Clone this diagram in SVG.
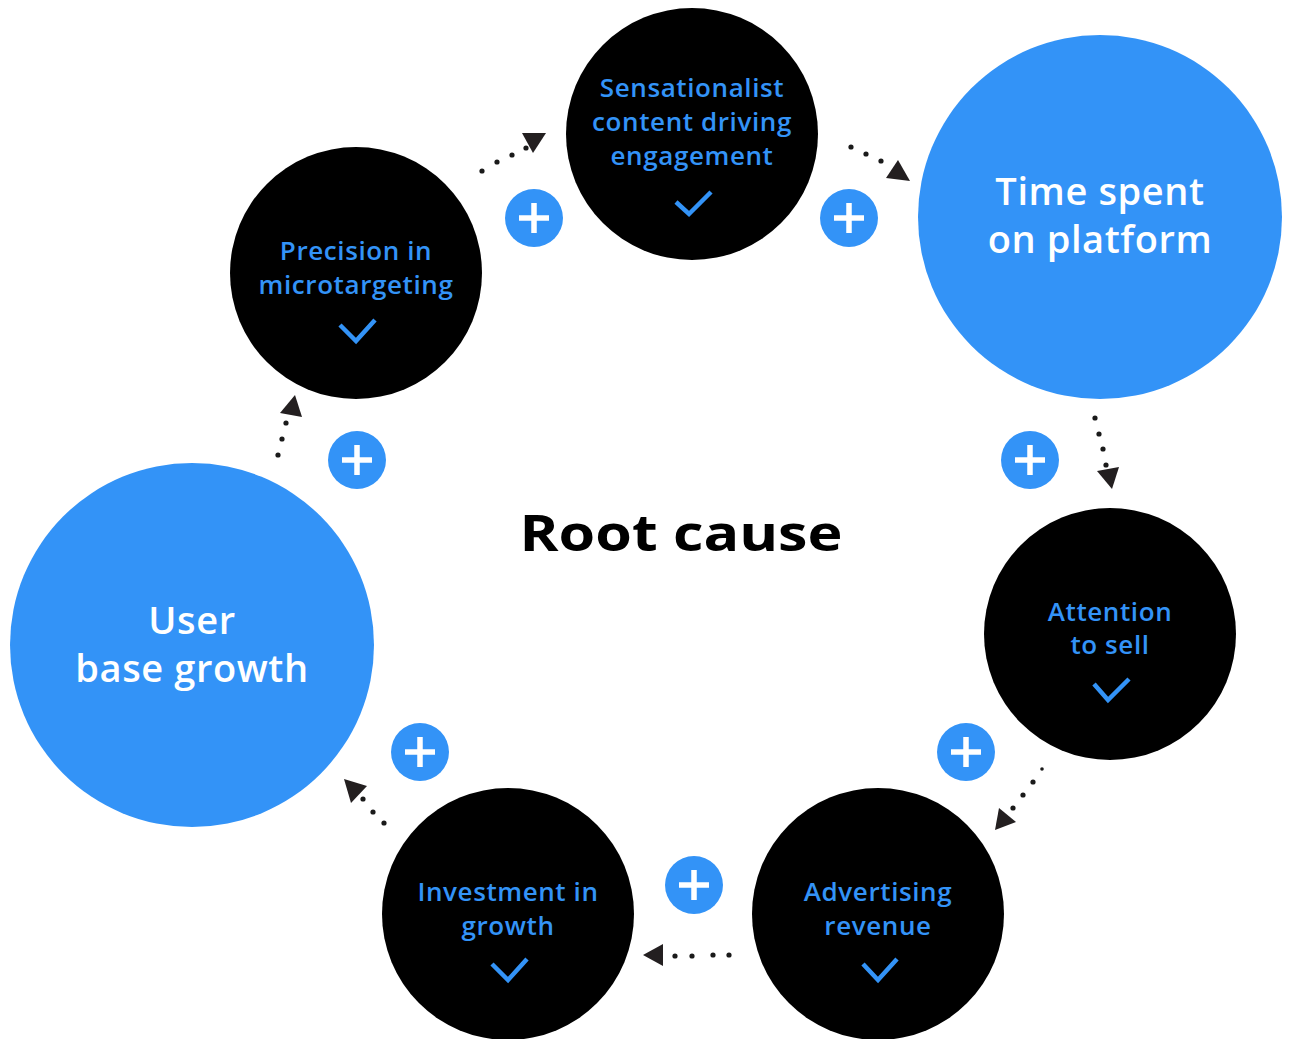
<svg xmlns="http://www.w3.org/2000/svg" width="1289" height="1039" viewBox="0 0 1289 1039">
<style>
.blk{fill:#000}
.big{fill:#3393f7}
.plus circle{fill:#3393f7}
.plus path{stroke:#fff;stroke-width:5.5;fill:none}
.lbl{font-family:"Open Sans","Liberation Sans",sans-serif;font-weight:600;font-size:26px;letter-spacing:0.6px;fill:#3393f7;text-anchor:middle}
.blbl{font-family:"Open Sans","Liberation Sans",sans-serif;font-weight:600;font-size:38px;letter-spacing:0.6px;fill:#fff;text-anchor:middle}
.chk{fill:none;stroke:#3393f7;stroke-width:4.5}
.dot{fill:#1a1a1a}
.head{fill:#231f20}
</style>
<rect width="1289" height="1039" fill="#fff"/>
<g id="connectors">
  <g id="c1"><circle class="dot" cx="482" cy="171" r="2.6"/><circle class="dot" cx="497" cy="162" r="2.6"/><circle class="dot" cx="512" cy="155" r="2.6"/><circle class="dot" cx="526" cy="148" r="2.6"/><polygon class="head" points="546,133 522,133 533,153"/></g>
  <g id="c2"><circle class="dot" cx="851" cy="147" r="2.6"/><circle class="dot" cx="866" cy="154" r="2.6"/><circle class="dot" cx="881" cy="161" r="2.6"/><polygon class="head" points="910,181 898,160 886,178"/></g>
  <g id="c3"><circle class="dot" cx="1095" cy="418" r="2.6"/><circle class="dot" cx="1099" cy="434" r="2.6"/><circle class="dot" cx="1103" cy="449" r="2.6"/><circle class="dot" cx="1106" cy="465" r="2.6"/><polygon class="head" points="1112,489 1097,471 1119,467"/></g>
  <g id="c4"><circle class="dot" cx="1042" cy="769" r="1.8"/><circle class="dot" cx="1033" cy="782" r="2.6"/><circle class="dot" cx="1023" cy="795" r="2.6"/><circle class="dot" cx="1013" cy="808" r="2.6"/><polygon class="head" points="995,830 999,808 1016,822"/></g>
  <g id="c5"><circle class="dot" cx="729" cy="955" r="2.6"/><circle class="dot" cx="713" cy="955" r="2.6"/><circle class="dot" cx="692" cy="956" r="2.6"/><circle class="dot" cx="675" cy="956" r="2.6"/><polygon class="head" points="643,955 663,944 663,966"/></g>
  <g id="c6"><circle class="dot" cx="384" cy="823" r="2.6"/><circle class="dot" cx="373" cy="812" r="2.6"/><circle class="dot" cx="363" cy="799" r="2.6"/><polygon class="head" points="344,779 367,786 351,803"/></g>
  <g id="c7"><circle class="dot" cx="278" cy="455" r="2.6"/><circle class="dot" cx="282" cy="439" r="2.6"/><circle class="dot" cx="286" cy="423" r="2.6"/><polygon class="head" points="295,395 280,413 302,417"/></g>
</g>
<g id="n-sensationalist">
  <circle class="blk" cx="692" cy="134" r="126"/>
  <text class="lbl" x="692" y="97">Sensationalist</text>
  <text class="lbl" x="692" y="131">content driving</text>
  <text class="lbl" x="692" y="165">engagement</text>
  <path class="chk" d="M676,202 L689,214 L711,192"/>
</g>
<g id="n-time">
  <circle class="big" cx="1100" cy="217" r="182"/>
  <text class="blbl" x="1100" y="205">Time spent</text>
  <text class="blbl" x="1100" y="253">on platform</text>
</g>
<g id="n-attention">
  <circle class="blk" cx="1110" cy="634" r="126"/>
  <text class="lbl" x="1110" y="621">Attention</text>
  <text class="lbl" x="1110" y="654">to sell</text>
  <path class="chk" d="M1094,684 L1108,700 L1129,679"/>
</g>
<g id="n-advertising">
  <circle class="blk" cx="878" cy="914" r="126"/>
  <text class="lbl" x="878" y="901">Advertising</text>
  <text class="lbl" x="878" y="935">revenue</text>
  <path class="chk" d="M863,964 L878,980 L897,959"/>
</g>
<g id="n-investment">
  <circle class="blk" cx="508" cy="914" r="126"/>
  <text class="lbl" x="508" y="901">Investment in</text>
  <text class="lbl" x="508" y="935">growth</text>
  <path class="chk" d="M492,964 L508,980 L527,959"/>
</g>
<g id="n-userbase">
  <circle class="big" cx="192" cy="645" r="182"/>
  <text class="blbl" x="192" y="634">User</text>
  <text class="blbl" x="192" y="682">base growth</text>
</g>
<g id="n-precision">
  <circle class="blk" cx="356" cy="273" r="126"/>
  <text class="lbl" x="356" y="260">Precision in</text>
  <text class="lbl" x="356" y="294">microtargeting</text>
  <path class="chk" d="M340,325 L356,341 L375,320"/>
</g>
<g id="plus-signs">
  <g class="plus"><circle cx="534" cy="218" r="29"/><path d="M519,218 H549 M534,203 V233"/></g>
  <g class="plus"><circle cx="849" cy="218" r="29"/><path d="M834,218 H864 M849,203 V233"/></g>
  <g class="plus"><circle cx="1030" cy="460" r="29"/><path d="M1015,460 H1045 M1030,445 V475"/></g>
  <g class="plus"><circle cx="966" cy="752" r="29"/><path d="M951,752 H981 M966,737 V767"/></g>
  <g class="plus"><circle cx="694" cy="885" r="29"/><path d="M679,885 H709 M694,870 V900"/></g>
  <g class="plus"><circle cx="420" cy="752" r="29"/><path d="M405,752 H435 M420,737 V767"/></g>
  <g class="plus"><circle cx="357" cy="460" r="29"/><path d="M342,460 H372 M357,445 V475"/></g>
</g>
<text id="title" x="681" y="551" font-family="'Open Sans','Liberation Sans',sans-serif" font-weight="700" font-size="51" textLength="323" lengthAdjust="spacingAndGlyphs" text-anchor="middle" fill="#000">Root cause</text>
</svg>
